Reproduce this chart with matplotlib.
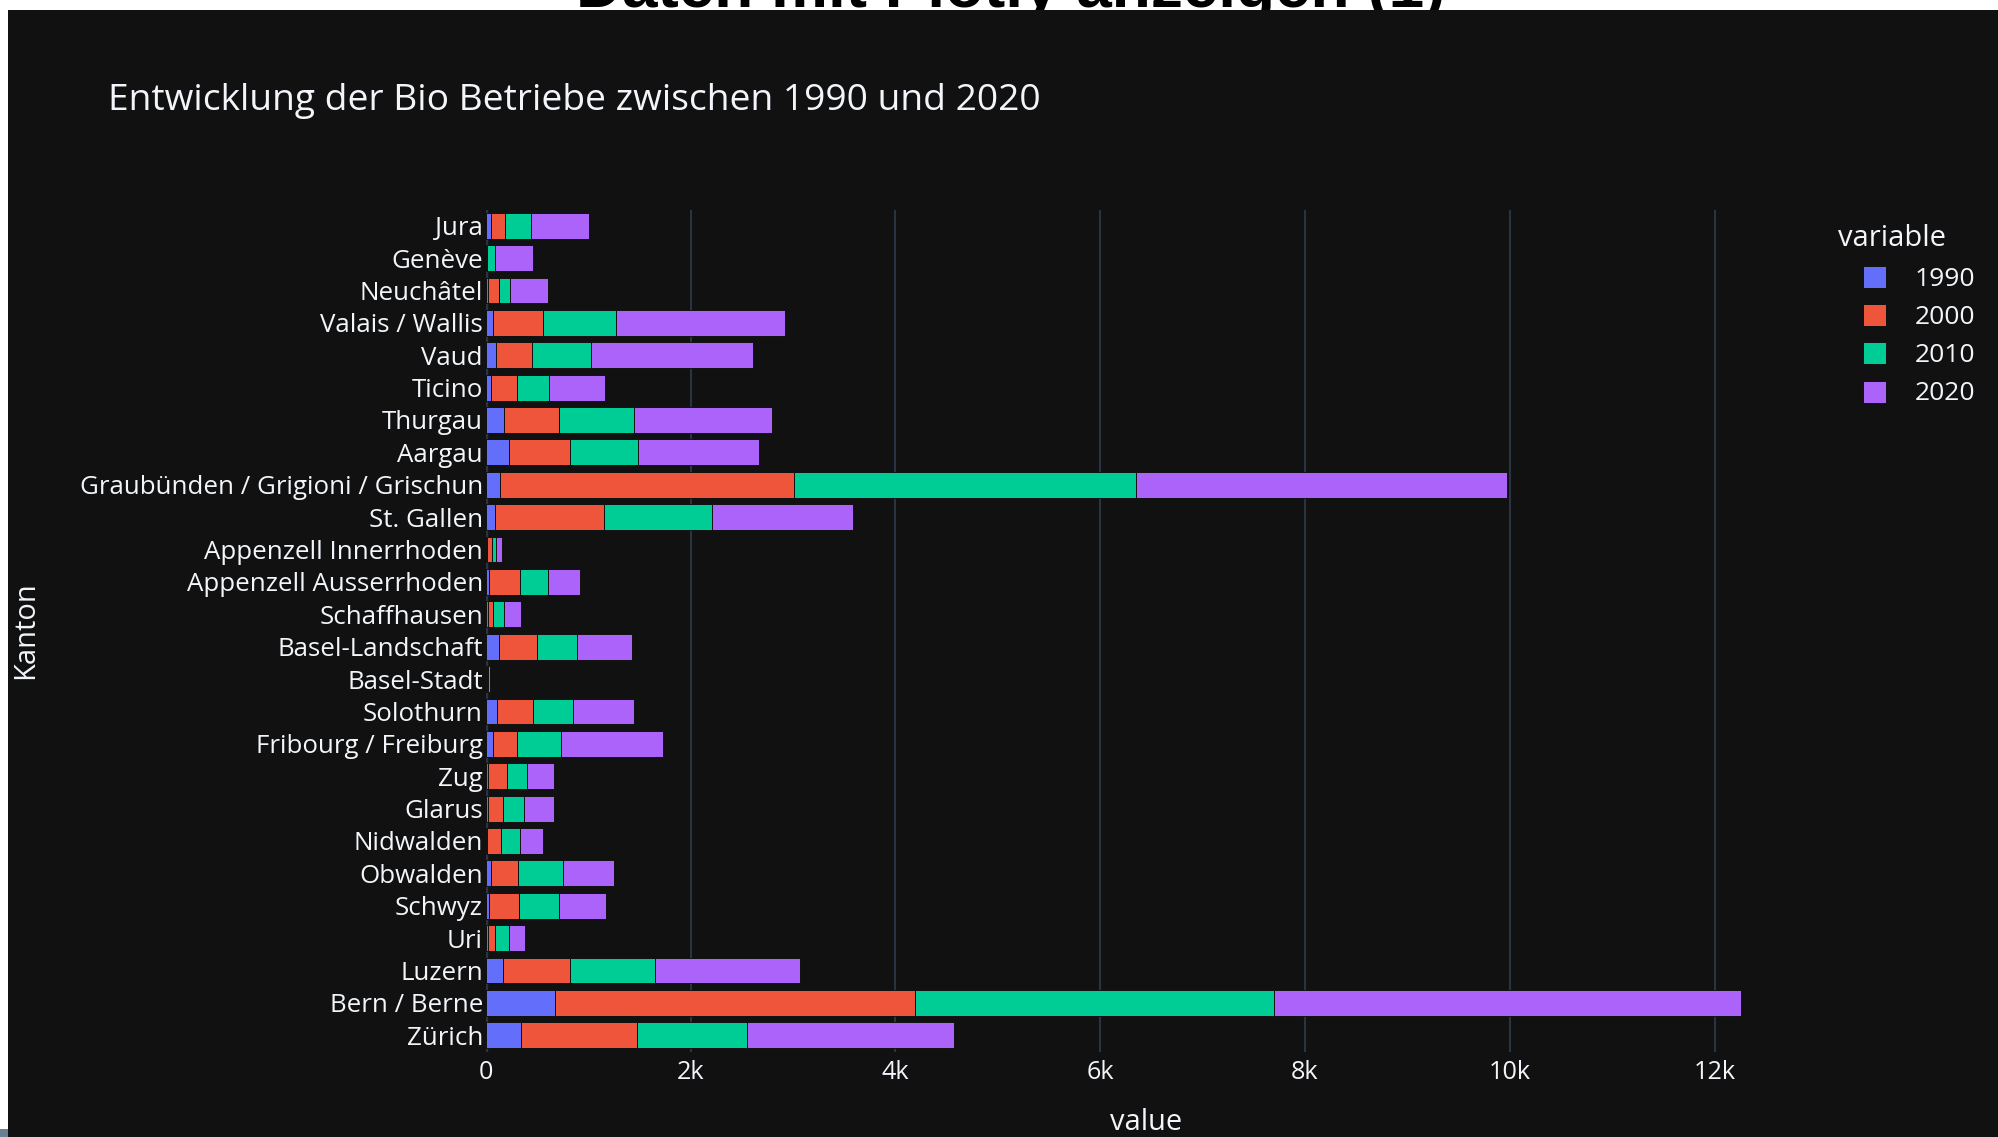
import matplotlib
matplotlib.use("Agg")
import matplotlib.pyplot as plt
from matplotlib.patches import Rectangle
from matplotlib.ticker import FuncFormatter
import numpy as np

plt.rcParams['font.family'] = ['Open Sans', 'DejaVu Sans']

# Kantone von unten nach oben (wie im Plotly-Diagramm)
kantone = ["Zürich", "Bern / Berne", "Luzern", "Uri", "Schwyz", "Obwalden", "Nidwalden",
           "Glarus", "Zug", "Fribourg / Freiburg", "Solothurn", "Basel-Stadt",
           "Basel-Landschaft", "Schaffhausen", "Appenzell Ausserrhoden",
           "Appenzell Innerrhoden", "St. Gallen", "Graubünden / Grigioni / Grischun",
           "Aargau", "Thurgau", "Ticino", "Vaud", "Valais / Wallis", "Neuchâtel",
           "Genève", "Jura"]

jahre = ["1990", "2000", "2010", "2020"]

bio_1990 = [341, 677, 171, 18, 31, 49, 15, 18, 18, 71, 114, 2, 132, 18, 31, 10, 88, 136,
            232, 180, 49, 105, 71, 18, 5, 53]
bio_2000 = [1138, 3517, 649, 70, 297, 266, 134, 153, 188, 231, 349, 8, 370, 57, 301, 48,
            1072, 2877, 593, 536, 261, 345, 492, 114, 12, 135]
bio_2010 = [1072, 3499, 837, 144, 392, 436, 183, 205, 200, 436, 392, 10, 393, 100, 275, 39,
            1051, 3339, 662, 732, 310, 575, 707, 104, 75, 257]
bio_2020 = [2023, 4560, 1413, 153, 458, 497, 223, 292, 262, 989, 589, 18, 536, 166, 314, 65,
            1378, 3619, 1182, 1352, 549, 1587, 1656, 375, 367, 563]

farben = ["#636efa", "#EF553B", "#00cc96", "#ab63fa"]
bg = "#111111"
grid = "#283442"
txt = "#f2f5fa"

W, H = 1999, 1137
fig = plt.figure(figsize=(W / 100, H / 100), dpi=100)
fig.patch.set_facecolor("white")

# abgeschnittene Überschrift der Folie oben
fig.text(576 / W, 1 - 7 / H, "Daten mit Plotly anzeigen (1)", family="Liberation Sans",
         fontweight="bold", fontsize=46, color="black", ha="left", va="baseline", zorder=0)
fig.patches.append(Rectangle((8 / W, 0), 1 - 8 / W, 1 - 10 / H, transform=fig.transFigure,
                             facecolor=bg, edgecolor="none", zorder=0.5))
fig.patches.append(Rectangle((0, 0), 8 / W, 8 / H, transform=fig.transFigure,
                             facecolor="#6b7f93", edgecolor="none", zorder=0.5))

ax = fig.add_axes([485.7 / W, 1 - 1051.5 / H, (1807 - 485.7) / W, (1051.5 - 209.5) / H],
                  zorder=1)
ax.set_facecolor(bg)

y = np.arange(len(kantone))
links = np.zeros(len(kantone))
for jahr, werte, farbe in zip(jahre, [bio_1990, bio_2000, bio_2010, bio_2020], farben):
    ax.barh(y, werte, left=links, height=0.8, color=farbe, edgecolor=bg, linewidth=0.7,
            label=jahr, zorder=3)
    links = links + np.array(werte)

ax.set_xlim(0, 12902)
ax.set_ylim(-0.5, len(kantone) - 0.5)
ax.set_xticks([0, 2000, 4000, 6000, 8000, 10000, 12000])
ax.xaxis.set_major_formatter(FuncFormatter(lambda v, p: "0" if v == 0 else f"{int(v/1000)}k"))
ax.set_yticks(y)
ax.set_yticklabels(kantone)
ax.grid(axis="x", color=grid, linewidth=1.5, zorder=0)
ax.axvline(0, color=grid, linewidth=2.5, zorder=2)
for s in ax.spines.values():
    s.set_visible(False)
ax.tick_params(axis="x", length=0, colors=txt, labelsize=18.2, pad=6)
ax.tick_params(axis="y", length=0, colors=txt, labelsize=18.6, pad=2)

fig.text(1146 / W, 1 - 1122 / H, "value", color=txt, fontsize=20.9, ha="center", va="center",
         zorder=2)
fig.text(25.5 / W, 1 - 630 / H, "Kanton", color=txt, fontsize=20.9, ha="center", va="center",
         rotation=90, zorder=2)
fig.text(108 / W, 1 - 101 / H, "Entwicklung der Bio Betriebe zwischen 1990 und 2020", color=txt,
         fontsize=26.7, ha="left", va="center", zorder=2)

# Legende
fig.text(1838 / W, 1 - 239 / H, "variable", color=txt, fontsize=21, ha="left", va="center",
         zorder=2)
for i, (jahr, farbe) in enumerate(zip(jahre, farben)):
    yc = 277 + i * 38.2
    fig.patches.append(Rectangle((1863 / W, 1 - (yc + 11) / H), 23 / W, 22 / H,
                                 transform=fig.transFigure, facecolor=farbe, edgecolor=bg,
                                 linewidth=0.7, zorder=2))
    fig.text(1915 / W, 1 - (yc + 2) / H, jahr, color=txt, fontsize=19, ha="left", va="center",
             zorder=2)

fig.savefig("out.png", dpi=100, facecolor=fig.get_facecolor())
